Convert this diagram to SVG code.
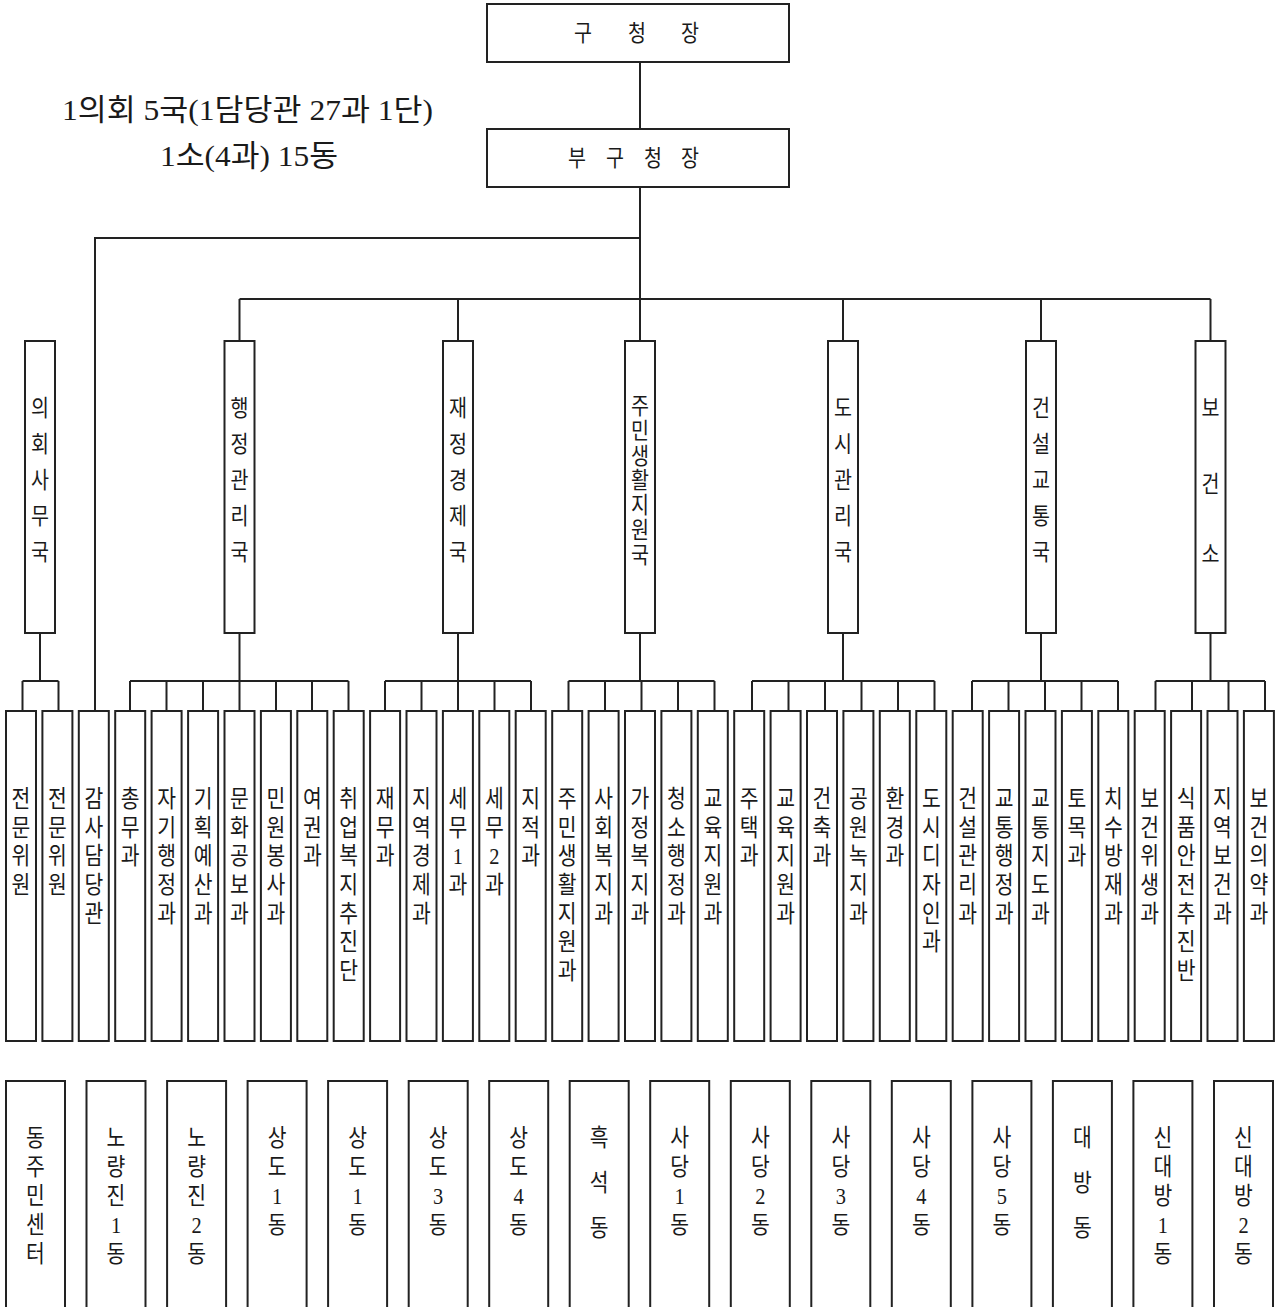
<svg xmlns="http://www.w3.org/2000/svg" width="1284" height="1307" viewBox="0 0 1284 1307">
<style>
rect{fill:#fff;stroke:#222;stroke-width:2}
.c{fill:none;stroke:#222;stroke-width:2}
text{font-family:"Liberation Serif","Noto Sans CJK KR",serif;fill:#1a1a1a;text-anchor:middle}
.b{font-size:24px}
.d{font-size:23px}
.h{font-size:23px}
.s{font-size:30px;text-anchor:start}
</style>
<rect x="0" y="0" width="1284" height="1307" style="fill:#fff;stroke:none"/>
<g id="summary">
<text class="s" x="62" y="120" textLength="371" lengthAdjust="spacingAndGlyphs">1의회 5국(1담당관 27과 1단)</text>
<text class="s" x="160" y="166" textLength="178" lengthAdjust="spacingAndGlyphs">1소(4과) 15동</text>
</g>
<g id="connectors">
<path class="c" d="M640 62V129M640 187V299M640 238H95V711M239.5 299H1210.5M239.5 299V341M458 299V341M640 299V341M843 299V341M1041 299V341M1210.5 299V341"/>
<path class="c" d="M40 633V681M22.5 681H58.5M22.5 681V711M58.5 681V711"/>
<path class="c" d="M239.5 633V681M130 681H348.5M130 681V711M166.5 681V711M203 681V711M239.5 681V711M276 681V711M312 681V711M348.5 681V711"/>
<path class="c" d="M458 633V681M385 681H531M385 681V711M421.5 681V711M458 681V711M494.5 681V711M531 681V711"/>
<path class="c" d="M640 633V681M568.5 681H714.5M568.5 681V711M605 681V711M641.5 681V711M678 681V711M714.5 681V711"/>
<path class="c" d="M843 633V681M752 681H934.5M752 681V711M788.5 681V711M825 681V711M861.5 681V711M898 681V711M934.5 681V711"/>
<path class="c" d="M1041 633V681M972 681H1118M972 681V711M1008.5 681V711M1045 681V711M1081.5 681V711M1118 681V711"/>
<path class="c" d="M1210.5 633V681M1155.5 681H1265M1155.5 681V711M1192 681V711M1228.5 681V711M1265 681V711"/>
</g>
<g id="n-gucheongjang"><rect x="487" y="4" width="302" height="58"/>
<text class="h" transform="scale(0.85,1)"><tspan x="685.9" y="41">구</tspan><tspan x="749.4" y="41">청</tspan><tspan x="811.8" y="41">장</tspan></text></g>
<g id="n-bugucheongjang"><rect x="487" y="129" width="302" height="58"/>
<text class="h" transform="scale(0.85,1)"><tspan x="678.8" y="166">부</tspan><tspan x="723.5" y="166">구</tspan><tspan x="768.2" y="166">청</tspan><tspan x="811.8" y="166">장</tspan></text></g>

<g id="d-uihoe"><rect x="25" y="341" width="30" height="292"/>
<text class="d" transform="translate(40,0) scale(0.85,1)"><tspan x="0" y="416">의</tspan><tspan x="0" y="452">회</tspan><tspan x="0" y="488">사</tspan><tspan x="0" y="524">무</tspan><tspan x="0" y="560">국</tspan></text></g>
<g id="d-haengjeong"><rect x="224.5" y="341" width="30" height="292"/>
<text class="d" transform="translate(239.5,0) scale(0.85,1)"><tspan x="0" y="416">행</tspan><tspan x="0" y="452">정</tspan><tspan x="0" y="488">관</tspan><tspan x="0" y="524">리</tspan><tspan x="0" y="560">국</tspan></text></g>
<g id="d-jaejeong"><rect x="443" y="341" width="30" height="292"/>
<text class="d" transform="translate(458,0) scale(0.85,1)"><tspan x="0" y="416">재</tspan><tspan x="0" y="452">정</tspan><tspan x="0" y="488">경</tspan><tspan x="0" y="524">제</tspan><tspan x="0" y="560">국</tspan></text></g>
<g id="d-jumin"><rect x="625" y="341" width="30" height="292"/>
<text class="d" transform="translate(640,0) scale(0.85,1)"><tspan x="0" y="414">주</tspan><tspan x="0" y="439">민</tspan><tspan x="0" y="464">생</tspan><tspan x="0" y="488">활</tspan><tspan x="0" y="513">지</tspan><tspan x="0" y="538">원</tspan><tspan x="0" y="563">국</tspan></text></g>
<g id="d-dosi"><rect x="828" y="341" width="30" height="292"/>
<text class="d" transform="translate(843,0) scale(0.85,1)"><tspan x="0" y="416">도</tspan><tspan x="0" y="452">시</tspan><tspan x="0" y="488">관</tspan><tspan x="0" y="524">리</tspan><tspan x="0" y="560">국</tspan></text></g>
<g id="d-geonseol"><rect x="1026" y="341" width="30" height="292"/>
<text class="d" transform="translate(1041,0) scale(0.85,1)"><tspan x="0" y="416">건</tspan><tspan x="0" y="452">설</tspan><tspan x="0" y="488">교</tspan><tspan x="0" y="524">통</tspan><tspan x="0" y="560">국</tspan></text></g>
<g id="d-bogeonso"><rect x="1195.5" y="341" width="30" height="292"/>
<text class="d" transform="translate(1210.5,0) scale(0.85,1)"><tspan x="0" y="416">보</tspan><tspan x="0" y="492">건</tspan><tspan x="0" y="562">소</tspan></text></g>

<g id="u00"><rect x="6" y="711" width="30" height="330"/><text class="b" transform="translate(21,0) scale(0.85,1)"><tspan x="0" y="807">전</tspan><tspan x="0" y="836">문</tspan><tspan x="0" y="864">위</tspan><tspan x="0" y="893">원</tspan></text></g>
<g id="u01"><rect x="42.4" y="711" width="30" height="330"/><text class="b" transform="translate(57.4,0) scale(0.85,1)"><tspan x="0" y="807">전</tspan><tspan x="0" y="836">문</tspan><tspan x="0" y="864">위</tspan><tspan x="0" y="893">원</tspan></text></g>
<g id="u02"><rect x="78.8" y="711" width="30" height="330"/><text class="b" transform="translate(93.8,0) scale(0.85,1)"><tspan x="0" y="807">감</tspan><tspan x="0" y="836">사</tspan><tspan x="0" y="864">담</tspan><tspan x="0" y="893">당</tspan><tspan x="0" y="922">관</tspan></text></g>
<g id="u03"><rect x="115.2" y="711" width="30" height="330"/><text class="b" transform="translate(130.2,0) scale(0.85,1)"><tspan x="0" y="807">총</tspan><tspan x="0" y="836">무</tspan><tspan x="0" y="864">과</tspan></text></g>
<g id="u04"><rect x="151.6" y="711" width="30" height="330"/><text class="b" transform="translate(166.6,0) scale(0.85,1)"><tspan x="0" y="807">자</tspan><tspan x="0" y="836">기</tspan><tspan x="0" y="864">행</tspan><tspan x="0" y="893">정</tspan><tspan x="0" y="922">과</tspan></text></g>
<g id="u05"><rect x="188.1" y="711" width="30" height="330"/><text class="b" transform="translate(203.1,0) scale(0.85,1)"><tspan x="0" y="807">기</tspan><tspan x="0" y="836">획</tspan><tspan x="0" y="864">예</tspan><tspan x="0" y="893">산</tspan><tspan x="0" y="922">과</tspan></text></g>
<g id="u06"><rect x="224.5" y="711" width="30" height="330"/><text class="b" transform="translate(239.5,0) scale(0.85,1)"><tspan x="0" y="807">문</tspan><tspan x="0" y="836">화</tspan><tspan x="0" y="864">공</tspan><tspan x="0" y="893">보</tspan><tspan x="0" y="922">과</tspan></text></g>
<g id="u07"><rect x="260.9" y="711" width="30" height="330"/><text class="b" transform="translate(275.9,0) scale(0.85,1)"><tspan x="0" y="807">민</tspan><tspan x="0" y="836">원</tspan><tspan x="0" y="864">봉</tspan><tspan x="0" y="893">사</tspan><tspan x="0" y="922">과</tspan></text></g>
<g id="u08"><rect x="297.3" y="711" width="30" height="330"/><text class="b" transform="translate(312.3,0) scale(0.85,1)"><tspan x="0" y="807">여</tspan><tspan x="0" y="836">권</tspan><tspan x="0" y="864">과</tspan></text></g>
<g id="u09"><rect x="333.7" y="711" width="30" height="330"/><text class="b" transform="translate(348.7,0) scale(0.85,1)"><tspan x="0" y="807">취</tspan><tspan x="0" y="836">업</tspan><tspan x="0" y="864">복</tspan><tspan x="0" y="893">지</tspan><tspan x="0" y="922">추</tspan><tspan x="0" y="950">진</tspan><tspan x="0" y="979">단</tspan></text></g>
<g id="u10"><rect x="370.1" y="711" width="30" height="330"/><text class="b" transform="translate(385.1,0) scale(0.85,1)"><tspan x="0" y="807">재</tspan><tspan x="0" y="836">무</tspan><tspan x="0" y="864">과</tspan></text></g>
<g id="u11"><rect x="406.5" y="711" width="30" height="330"/><text class="b" transform="translate(421.5,0) scale(0.85,1)"><tspan x="0" y="807">지</tspan><tspan x="0" y="836">역</tspan><tspan x="0" y="864">경</tspan><tspan x="0" y="893">제</tspan><tspan x="0" y="922">과</tspan></text></g>
<g id="u12"><rect x="442.9" y="711" width="30" height="330"/><text class="b" transform="translate(457.9,0) scale(0.85,1)"><tspan x="0" y="807">세</tspan><tspan x="0" y="836">무</tspan><tspan x="0" y="864">1</tspan><tspan x="0" y="893">과</tspan></text></g>
<g id="u13"><rect x="479.3" y="711" width="30" height="330"/><text class="b" transform="translate(494.3,0) scale(0.85,1)"><tspan x="0" y="807">세</tspan><tspan x="0" y="836">무</tspan><tspan x="0" y="864">2</tspan><tspan x="0" y="893">과</tspan></text></g>
<g id="u14"><rect x="515.7" y="711" width="30" height="330"/><text class="b" transform="translate(530.7,0) scale(0.85,1)"><tspan x="0" y="807">지</tspan><tspan x="0" y="836">적</tspan><tspan x="0" y="864">과</tspan></text></g>
<g id="u15"><rect x="552.2" y="711" width="30" height="330"/><text class="b" transform="translate(567.2,0) scale(0.85,1)"><tspan x="0" y="807">주</tspan><tspan x="0" y="836">민</tspan><tspan x="0" y="864">생</tspan><tspan x="0" y="893">활</tspan><tspan x="0" y="922">지</tspan><tspan x="0" y="950">원</tspan><tspan x="0" y="979">과</tspan></text></g>
<g id="u16"><rect x="588.6" y="711" width="30" height="330"/><text class="b" transform="translate(603.6,0) scale(0.85,1)"><tspan x="0" y="807">사</tspan><tspan x="0" y="836">회</tspan><tspan x="0" y="864">복</tspan><tspan x="0" y="893">지</tspan><tspan x="0" y="922">과</tspan></text></g>
<g id="u17"><rect x="625" y="711" width="30" height="330"/><text class="b" transform="translate(640,0) scale(0.85,1)"><tspan x="0" y="807">가</tspan><tspan x="0" y="836">정</tspan><tspan x="0" y="864">복</tspan><tspan x="0" y="893">지</tspan><tspan x="0" y="922">과</tspan></text></g>
<g id="u18"><rect x="661.4" y="711" width="30" height="330"/><text class="b" transform="translate(676.4,0) scale(0.85,1)"><tspan x="0" y="807">청</tspan><tspan x="0" y="836">소</tspan><tspan x="0" y="864">행</tspan><tspan x="0" y="893">정</tspan><tspan x="0" y="922">과</tspan></text></g>
<g id="u19"><rect x="697.8" y="711" width="30" height="330"/><text class="b" transform="translate(712.8,0) scale(0.85,1)"><tspan x="0" y="807">교</tspan><tspan x="0" y="836">육</tspan><tspan x="0" y="864">지</tspan><tspan x="0" y="893">원</tspan><tspan x="0" y="922">과</tspan></text></g>
<g id="u20"><rect x="734.2" y="711" width="30" height="330"/><text class="b" transform="translate(749.2,0) scale(0.85,1)"><tspan x="0" y="807">주</tspan><tspan x="0" y="836">택</tspan><tspan x="0" y="864">과</tspan></text></g>
<g id="u21"><rect x="770.6" y="711" width="30" height="330"/><text class="b" transform="translate(785.6,0) scale(0.85,1)"><tspan x="0" y="807">교</tspan><tspan x="0" y="836">육</tspan><tspan x="0" y="864">지</tspan><tspan x="0" y="893">원</tspan><tspan x="0" y="922">과</tspan></text></g>
<g id="u22"><rect x="807" y="711" width="30" height="330"/><text class="b" transform="translate(822,0) scale(0.85,1)"><tspan x="0" y="807">건</tspan><tspan x="0" y="836">축</tspan><tspan x="0" y="864">과</tspan></text></g>
<g id="u23"><rect x="843.4" y="711" width="30" height="330"/><text class="b" transform="translate(858.4,0) scale(0.85,1)"><tspan x="0" y="807">공</tspan><tspan x="0" y="836">원</tspan><tspan x="0" y="864">녹</tspan><tspan x="0" y="893">지</tspan><tspan x="0" y="922">과</tspan></text></g>
<g id="u24"><rect x="879.8" y="711" width="30" height="330"/><text class="b" transform="translate(894.8,0) scale(0.85,1)"><tspan x="0" y="807">환</tspan><tspan x="0" y="836">경</tspan><tspan x="0" y="864">과</tspan></text></g>
<g id="u25"><rect x="916.3" y="711" width="30" height="330"/><text class="b" transform="translate(931.3,0) scale(0.85,1)"><tspan x="0" y="807">도</tspan><tspan x="0" y="836">시</tspan><tspan x="0" y="864">디</tspan><tspan x="0" y="893">자</tspan><tspan x="0" y="922">인</tspan><tspan x="0" y="950">과</tspan></text></g>
<g id="u26"><rect x="952.7" y="711" width="30" height="330"/><text class="b" transform="translate(967.7,0) scale(0.85,1)"><tspan x="0" y="807">건</tspan><tspan x="0" y="836">설</tspan><tspan x="0" y="864">관</tspan><tspan x="0" y="893">리</tspan><tspan x="0" y="922">과</tspan></text></g>
<g id="u27"><rect x="989.1" y="711" width="30" height="330"/><text class="b" transform="translate(1004.1,0) scale(0.85,1)"><tspan x="0" y="807">교</tspan><tspan x="0" y="836">통</tspan><tspan x="0" y="864">행</tspan><tspan x="0" y="893">정</tspan><tspan x="0" y="922">과</tspan></text></g>
<g id="u28"><rect x="1025.5" y="711" width="30" height="330"/><text class="b" transform="translate(1040.5,0) scale(0.85,1)"><tspan x="0" y="807">교</tspan><tspan x="0" y="836">통</tspan><tspan x="0" y="864">지</tspan><tspan x="0" y="893">도</tspan><tspan x="0" y="922">과</tspan></text></g>
<g id="u29"><rect x="1061.9" y="711" width="30" height="330"/><text class="b" transform="translate(1076.9,0) scale(0.85,1)"><tspan x="0" y="807">토</tspan><tspan x="0" y="836">목</tspan><tspan x="0" y="864">과</tspan></text></g>
<g id="u30"><rect x="1098.3" y="711" width="30" height="330"/><text class="b" transform="translate(1113.3,0) scale(0.85,1)"><tspan x="0" y="807">치</tspan><tspan x="0" y="836">수</tspan><tspan x="0" y="864">방</tspan><tspan x="0" y="893">재</tspan><tspan x="0" y="922">과</tspan></text></g>
<g id="u31"><rect x="1134.7" y="711" width="30" height="330"/><text class="b" transform="translate(1149.7,0) scale(0.85,1)"><tspan x="0" y="807">보</tspan><tspan x="0" y="836">건</tspan><tspan x="0" y="864">위</tspan><tspan x="0" y="893">생</tspan><tspan x="0" y="922">과</tspan></text></g>
<g id="u32"><rect x="1171.1" y="711" width="30" height="330"/><text class="b" transform="translate(1186.1,0) scale(0.85,1)"><tspan x="0" y="807">식</tspan><tspan x="0" y="836">품</tspan><tspan x="0" y="864">안</tspan><tspan x="0" y="893">전</tspan><tspan x="0" y="922">추</tspan><tspan x="0" y="950">진</tspan><tspan x="0" y="979">반</tspan></text></g>
<g id="u33"><rect x="1207.5" y="711" width="30" height="330"/><text class="b" transform="translate(1222.5,0) scale(0.85,1)"><tspan x="0" y="807">지</tspan><tspan x="0" y="836">역</tspan><tspan x="0" y="864">보</tspan><tspan x="0" y="893">건</tspan><tspan x="0" y="922">과</tspan></text></g>
<g id="u34"><rect x="1243.9" y="711" width="30" height="330"/><text class="b" transform="translate(1258.9,0) scale(0.85,1)"><tspan x="0" y="807">보</tspan><tspan x="0" y="836">건</tspan><tspan x="0" y="864">의</tspan><tspan x="0" y="893">약</tspan><tspan x="0" y="922">과</tspan></text></g>

<g id="g00"><rect x="6" y="1081" width="59" height="240"/><text class="b" transform="translate(35.5,0) scale(0.85,1)"><tspan x="0" y="1146">동</tspan><tspan x="0" y="1175">주</tspan><tspan x="0" y="1204">민</tspan><tspan x="0" y="1233">센</tspan><tspan x="0" y="1262">터</tspan></text></g>
<g id="g01"><rect x="86.5" y="1081" width="59" height="240"/><text class="b" transform="translate(116,0) scale(0.85,1)"><tspan x="0" y="1146">노</tspan><tspan x="0" y="1175">량</tspan><tspan x="0" y="1204">진</tspan><tspan x="0" y="1233">1</tspan><tspan x="0" y="1262">동</tspan></text></g>
<g id="g02"><rect x="167.1" y="1081" width="59" height="240"/><text class="b" transform="translate(196.6,0) scale(0.85,1)"><tspan x="0" y="1146">노</tspan><tspan x="0" y="1175">량</tspan><tspan x="0" y="1204">진</tspan><tspan x="0" y="1233">2</tspan><tspan x="0" y="1262">동</tspan></text></g>
<g id="g03"><rect x="247.6" y="1081" width="59" height="240"/><text class="b" transform="translate(277.1,0) scale(0.85,1)"><tspan x="0" y="1146">상</tspan><tspan x="0" y="1175">도</tspan><tspan x="0" y="1204">1</tspan><tspan x="0" y="1233">동</tspan></text></g>
<g id="g04"><rect x="328.1" y="1081" width="59" height="240"/><text class="b" transform="translate(357.6,0) scale(0.85,1)"><tspan x="0" y="1146">상</tspan><tspan x="0" y="1175">도</tspan><tspan x="0" y="1204">1</tspan><tspan x="0" y="1233">동</tspan></text></g>
<g id="g05"><rect x="408.7" y="1081" width="59" height="240"/><text class="b" transform="translate(438.2,0) scale(0.85,1)"><tspan x="0" y="1146">상</tspan><tspan x="0" y="1175">도</tspan><tspan x="0" y="1204">3</tspan><tspan x="0" y="1233">동</tspan></text></g>
<g id="g06"><rect x="489.2" y="1081" width="59" height="240"/><text class="b" transform="translate(518.7,0) scale(0.85,1)"><tspan x="0" y="1146">상</tspan><tspan x="0" y="1175">도</tspan><tspan x="0" y="1204">4</tspan><tspan x="0" y="1233">동</tspan></text></g>
<g id="g07"><rect x="569.7" y="1081" width="59" height="240"/><text class="b" transform="translate(599.2,0) scale(0.85,1)"><tspan x="0" y="1146">흑</tspan><tspan x="0" y="1191">석</tspan><tspan x="0" y="1236">동</tspan></text></g>
<g id="g08"><rect x="650.2" y="1081" width="59" height="240"/><text class="b" transform="translate(679.7,0) scale(0.85,1)"><tspan x="0" y="1146">사</tspan><tspan x="0" y="1175">당</tspan><tspan x="0" y="1204">1</tspan><tspan x="0" y="1233">동</tspan></text></g>
<g id="g09"><rect x="730.8" y="1081" width="59" height="240"/><text class="b" transform="translate(760.3,0) scale(0.85,1)"><tspan x="0" y="1146">사</tspan><tspan x="0" y="1175">당</tspan><tspan x="0" y="1204">2</tspan><tspan x="0" y="1233">동</tspan></text></g>
<g id="g10"><rect x="811.3" y="1081" width="59" height="240"/><text class="b" transform="translate(840.8,0) scale(0.85,1)"><tspan x="0" y="1146">사</tspan><tspan x="0" y="1175">당</tspan><tspan x="0" y="1204">3</tspan><tspan x="0" y="1233">동</tspan></text></g>
<g id="g11"><rect x="891.8" y="1081" width="59" height="240"/><text class="b" transform="translate(921.3,0) scale(0.85,1)"><tspan x="0" y="1146">사</tspan><tspan x="0" y="1175">당</tspan><tspan x="0" y="1204">4</tspan><tspan x="0" y="1233">동</tspan></text></g>
<g id="g12"><rect x="972.4" y="1081" width="59" height="240"/><text class="b" transform="translate(1001.9,0) scale(0.85,1)"><tspan x="0" y="1146">사</tspan><tspan x="0" y="1175">당</tspan><tspan x="0" y="1204">5</tspan><tspan x="0" y="1233">동</tspan></text></g>
<g id="g13"><rect x="1052.9" y="1081" width="59" height="240"/><text class="b" transform="translate(1082.4,0) scale(0.85,1)"><tspan x="0" y="1146">대</tspan><tspan x="0" y="1191">방</tspan><tspan x="0" y="1236">동</tspan></text></g>
<g id="g14"><rect x="1133.4" y="1081" width="59" height="240"/><text class="b" transform="translate(1162.9,0) scale(0.85,1)"><tspan x="0" y="1146">신</tspan><tspan x="0" y="1175">대</tspan><tspan x="0" y="1204">방</tspan><tspan x="0" y="1233">1</tspan><tspan x="0" y="1262">동</tspan></text></g>
<g id="g15"><rect x="1214" y="1081" width="59" height="240"/><text class="b" transform="translate(1243.5,0) scale(0.85,1)"><tspan x="0" y="1146">신</tspan><tspan x="0" y="1175">대</tspan><tspan x="0" y="1204">방</tspan><tspan x="0" y="1233">2</tspan><tspan x="0" y="1262">동</tspan></text></g>
</svg>
